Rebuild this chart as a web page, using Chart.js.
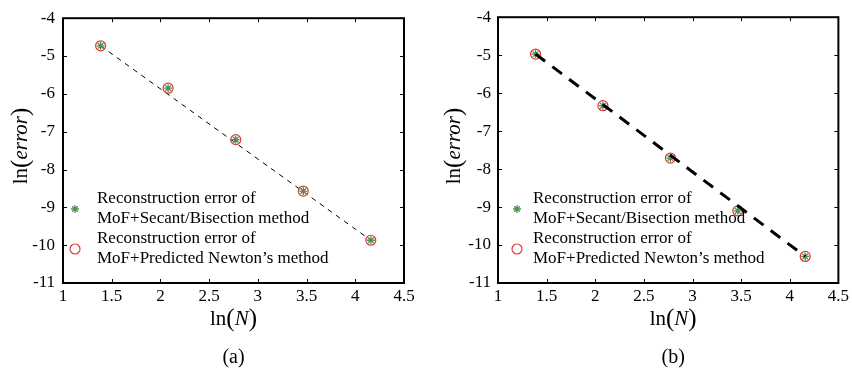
<!DOCTYPE html>
<html>
<head>
<meta charset="utf-8">
<script src="https://cdn.jsdelivr.net/npm/chart.js@4.4.0/dist/chart.umd.min.js"></script>
<style>
html, body { margin: 0; padding: 0; background: #fff; }
#wrap { position: relative; width: 852px; height: 374px; }
.panel { position: absolute; top: 0; height: 374px; }
</style>
</head>
<body>
<div id="wrap">
    <div class="panel" style="left:0; width:420px;"><canvas id="chartA" width="420" height="374"></canvas></div>
    <div class="panel" style="left:420px; width:432px;"><canvas id="chartB" width="432" height="374"></canvas></div>
</div>
<script>
// --- datos ---
const lnN = [1.386, 2.079, 2.773, 3.466, 4.159];

// panel (a)
const errSecantA = [-4.73, -5.85, -7.21, -8.57, -9.87];
const errNewtonA = [-4.73, -5.85, -7.21, -8.57, -9.87];
const fitXA = [1.386, 4.159];
const fitYA = [-4.73, -9.87];

// panel (b)
const errSecantB = [-4.97, -6.33, -7.71, -9.10, -10.30];
const errNewtonB = [-4.97, -6.33, -7.71, -9.10, -10.30];
const fitXB = [1.386, 4.159];
const fitYB = [-4.97, -10.30];

// ejes
const xTicks = [1, 1.5, 2, 2.5, 3, 3.5, 4, 4.5];
const yTicks = [-11, -10, -9, -8, -7, -6, -5, -4];

// leyenda y rótulos
const legendSecant = ['Reconstruction error of', 'MoF+Secant/Bisection method'];
const legendNewton = ['Reconstruction error of', 'MoF+Predicted Newton\u2019s method'];
const panelLabels = ['(a)', '(b)'];

const SERIF = 'Liberation Serif';
const GREEN = '#4f9150';
const RED = '#e0353a';

Chart.defaults.font.family = SERIF;
Chart.defaults.color = '#000';

const pares = (xs, ys) => xs.map((x, i) => ({ x: x, y: ys[i] }));

// texto con partes en distinta fuente (para ln(error) con cursiva)
function textoRico(ctx, partes, cx, cy, rot) {
    ctx.save();
    ctx.translate(cx, cy);
    ctx.rotate(rot);
    let total = 0;
    partes.forEach(p => { ctx.font = p.font; p.w = ctx.measureText(p.t).width; total += p.w; });
    let x = -total / 2;
    ctx.fillStyle = '#000';
    ctx.textBaseline = 'alphabetic';
    ctx.textAlign = 'left';
    partes.forEach(p => { ctx.font = p.font; ctx.fillText(p.t, x, p.dy || 0); x += p.w; });
    ctx.restore();
}

// marco, ticks interiores, títulos y leyenda dentro del área
const marcoPlugin = {
    id: 'marco',
    afterDraw(chart, args, opts) {
        const ctx = chart.ctx;
        const a = chart.chartArea;
        const sx = chart.scales.x, sy = chart.scales.y;
        ctx.save();
        ctx.strokeStyle = '#000';
        ctx.lineWidth = 1;
        ctx.beginPath();
        sx.ticks.forEach(t => {
            const px = Math.round(sx.getPixelForValue(t.value)) + 0.5;
            if (px < a.left + 2 || px > a.right - 2) return;
            ctx.moveTo(px, a.bottom); ctx.lineTo(px, a.bottom - 4);
            ctx.moveTo(px, a.top); ctx.lineTo(px, a.top + 4);
        });
        sy.ticks.forEach(t => {
            const py = Math.round(sy.getPixelForValue(t.value)) + 0.5;
            if (py < a.top + 2 || py > a.bottom - 2) return;
            ctx.moveTo(a.left, py); ctx.lineTo(a.left + 4, py);
            ctx.moveTo(a.right, py); ctx.lineTo(a.right - 4, py);
        });
        ctx.stroke();
        ctx.lineWidth = 2;
        ctx.strokeRect(a.left, a.top, a.right - a.left, a.bottom - a.top);

        // títulos de ejes
        const cxPlot = (a.left + a.right) / 2;
        textoRico(ctx, [
            { t: 'ln', font: '21px ' + SERIF },
            { t: '(', font: '25px ' + SERIF, dy: 1 },
            { t: 'N', font: 'italic 21px ' + SERIF },
            { t: ')', font: '25px ' + SERIF, dy: 1 }
        ], cxPlot + opts.xTitleDx, 325, 0);
        textoRico(ctx, [
            { t: 'ln', font: '21px ' + SERIF },
            { t: '(', font: '25px ' + SERIF, dy: 1 },
            { t: 'error', font: 'italic 21px ' + SERIF },
            { t: ')', font: '25px ' + SERIF, dy: 1 }
        ], a.left - opts.yTitleGap, 146, -Math.PI / 2);

        // etiqueta del panel
        ctx.font = '20px ' + SERIF;
        ctx.fillStyle = '#000';
        ctx.textAlign = 'center';
        ctx.textBaseline = 'middle';
        ctx.fillText(opts.panel, cxPlot + opts.xTitleDx, 358);

        // leyenda
        const items = chart.data.datasets.filter(d => d.legendLines);
        ctx.textAlign = 'left';
        items.forEach((d, i) => {
            const yc = opts.legendY + i * 40;
            ctx.save();
            ctx.strokeStyle = d.borderColor;
            ctx.fillStyle = d.backgroundColor;
            ctx.lineWidth = d.borderWidth;
            Chart.helpers.drawPoint(ctx, {
                pointStyle: d.pointStyle,
                rotation: 0,
                borderWidth: d.borderWidth,
                radius: d.pointRadius
            }, a.left + opts.legendMarkX, yc);
            ctx.restore();
            ctx.font = '17px ' + SERIF;
            ctx.fillStyle = '#000';
            ctx.textBaseline = 'middle';
            ctx.fillText(d.legendLines[0], a.left + opts.legendTextX, yc - 10);
            ctx.fillText(d.legendLines[1], a.left + opts.legendTextX, yc + 10);
        });
        ctx.restore();
    }
};

function crearPanel(idCanvas, secante, newton, fitX, fitY, cfg) {
    const datosSecante = {
        label: 'secant', data: pares(lnN, secante), showLine: false,
        pointStyle: 'star', pointRadius: 4, borderWidth: 1.3, pointBorderWidth: 1.3,
        borderColor: GREEN, pointBorderColor: GREEN, backgroundColor: GREEN,
        legendLines: legendSecant
    };
    const datosNewton = {
        label: 'newton', data: pares(lnN, newton), showLine: false,
        pointStyle: 'circle', pointRadius: 5, borderWidth: 1.2, pointBorderWidth: 1.2,
        borderColor: RED, pointBorderColor: RED, backgroundColor: 'rgba(0,0,0,0)', pointBackgroundColor: 'rgba(0,0,0,0)',
        legendLines: legendNewton
    };
    const datosAjuste = {
        label: 'fit', data: pares(fitX, fitY), showLine: true, pointRadius: 0,
        borderColor: '#000', borderWidth: cfg.fitWidth, borderDash: cfg.fitDash
    };
    // el primer dataset se dibuja encima
    const datasets = cfg.lineaEncima ? [datosAjuste, datosSecante, datosNewton] : [datosSecante, datosNewton, datosAjuste];

    return new Chart(document.getElementById(idCanvas), {
        type: 'scatter',
        data: { datasets: datasets },
        options: {
            responsive: false,
            animation: false,
            events: [],
            layout: { padding: { top: 16, right: cfg.padRight, left: 0, bottom: 0 } },
            plugins: {
                legend: { display: false },
                tooltip: { enabled: false },
                marco: cfg.marco
            },
            scales: {
                x: {
                    type: 'linear', min: 1, max: 4.5,
                    afterBuildTicks: s => { s.ticks = xTicks.map(v => ({ value: v })); },
                    ticks: { color: '#000', font: { family: SERIF, size: 17 }, padding: 3, maxRotation: 0, autoSkip: false,
                             callback: v => String(v) },
                    grid: { display: false, drawTicks: false },
                    border: { display: false },
                    afterFit: s => { s.height = 91; }
                },
                y: {
                    type: 'linear', min: -11, max: -4,
                    afterBuildTicks: s => { s.ticks = yTicks.map(v => ({ value: v })); },
                    ticks: { color: '#000', font: { family: SERIF, size: 17 }, padding: cfg.yPad,
                             callback: v => String(v) },
                    grid: { display: false, drawTicks: false },
                    border: { display: false },
                    afterFit: s => { s.width = cfg.yWidth; }
                }
            }
        },
        plugins: [marcoPlugin]
    });
}

crearPanel('chartA', errSecantA, errNewtonA, fitXA, fitYA, {
    fitWidth: 1, fitDash: [5, 5], lineaEncima: false,
    padRight: 16, yWidth: 63, yPad: 8,
    marco: { panel: panelLabels[0], xTitleDx: 0, yTitleGap: 36, legendY: 209, legendMarkX: 12, legendTextX: 34 }
});

crearPanel('chartB', errSecantB, errNewtonB, fitXB, fitYB, {
    fitWidth: 3, fitDash: [12, 9], lineaEncima: true,
    padRight: 13, yWidth: 78, yPad: 7,
    marco: { panel: panelLabels[1], xTitleDx: 5, yTitleGap: 38, legendY: 209, legendMarkX: 19, legendTextX: 35 }
});
</script>
</body>
</html>
